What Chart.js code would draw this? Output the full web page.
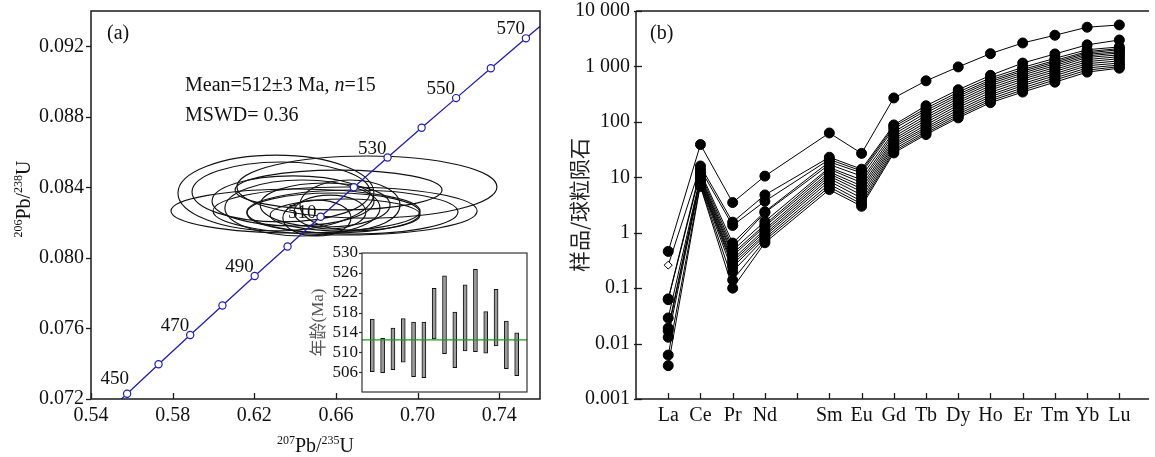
<!DOCTYPE html>
<html><head><meta charset="utf-8">
<script src="https://cdn.jsdelivr.net/npm/chart.js@4.4.0/dist/chart.umd.min.js"></script>
<style>
html,body{margin:0;padding:0;background:#fff;}
#wrap{position:relative;width:1155px;height:457px;overflow:hidden;background:#fff;}
.c{position:absolute;}
</style></head><body>
<div id="wrap">
<canvas id="ca" class="c" style="left:0;top:0" width="560" height="457"></canvas>
<canvas id="cb" class="c" style="left:560px;top:0" width="595" height="457"></canvas>
<canvas id="cc" class="c" style="left:300px;top:242px" width="232" height="156"></canvas>
</div>
<script>
// ---------------- Panel (a): concordia ----------------
const concAges = [440,450,460,470,480,490,500,510,520,530,540,550,560,570,580];
const concX = [0.5424,0.5577,0.5731,0.5886,0.6044,0.6202,0.6363,0.6525,0.6688,0.6853,0.7020,0.7189,0.7359,0.7531,0.7704];
const concY = [0.07064,0.07230,0.07397,0.07563,0.07730,0.07897,0.08065,0.08233,0.08401,0.08569,0.08738,0.08906,0.09075,0.09245,0.09415];
const concLabelAges = [450,470,490,510,530,550,570];
const xTicksA = [0.54,0.58,0.62,0.66,0.70,0.74];
const yTicksA = [0.072,0.076,0.080,0.084,0.088,0.092];
// error ellipses: centre (207Pb/235U, 206Pb/238U) and half-axes
const ellX = [0.6402,0.6306,0.6331,0.6390,0.6613,0.6752,0.6645,0.6681,0.6588,0.6507,0.6571,0.6547,0.6645,0.6669,0.6436];
const ellY = [0.08266,0.08368,0.08374,0.08323,0.08385,0.08402,0.08266,0.08260,0.08255,0.08226,0.08260,0.08300,0.08243,0.08300,0.08283];
const ellA = [0.0610,0.0480,0.0436,0.0397,0.0507,0.0637,0.0647,0.0517,0.0424,0.0167,0.0176,0.0318,0.0367,0.0245,0.0380];
const ellB = [0.00125,0.00215,0.00170,0.00142,0.00113,0.00176,0.00136,0.00125,0.00113,0.00102,0.00096,0.00125,0.00091,0.00142,0.00159];

// ---------------- Inset: spot ages ----------------
const spotAgeLow  = [506.1,505.9,506.5,508.0,505.1,504.9,512.7,509.7,506.9,510.3,510.1,509.8,511.3,506.7,505.3];
const spotAgeHigh = [516.7,512.8,514.9,516.8,516.1,516.1,522.9,525.4,518.1,523.6,526.7,518.2,522.7,516.3,513.9];
const weightedMean = 512.5;
const insetTicks = [506,510,514,518,522,526,530];

// ---------------- Panel (b): REE patterns ----------------
const reeElements = ['La','Ce','Pr','Nd','','Sm','Eu','Gd','Tb','Dy','Ho','Er','Tm','Yb','Lu'];
const reeMeasured = ['La','Ce','Pr','Nd','Sm','Eu','Gd','Tb','Dy','Ho','Er','Tm','Yb','Lu'];
const s01 = [0.46,39,3.5,10.5,63,27,270,550,980,1700,2650,3650,5100,5600];
const s02 = [0.26,16,1.55,4.8,23,14,88,195,380,690,1150,1680,2450,3000];
const s03 = [0.064,14,1.35,3.7,21,13,82,175,345,620,960,1400,2000,2250];
const s04 = [0.062,12.5,0.65,2.4,19,12,75,160,315,570,880,1280,1850,2100];
const s05 = [null,11.5,0.55,2.3,17,10.5,66,145,290,530,820,1200,1750,2000];
const s06 = [0.029,10.5,0.48,1.6,15,9,60,130,265,490,760,1120,1650,1850];
const s07 = [0.019,10,0.42,1.4,14,8,54,118,240,450,700,1040,1550,1750];
const s08 = [0.017,9.5,0.38,1.3,12.5,7,49,107,220,410,640,960,1450,1620];
const s09 = [0.013,9,0.33,1.15,11.5,6.2,45,97,200,375,590,880,1330,1500];
const s10 = [null,8.5,0.30,1.05,10.5,5.5,41,88,182,340,540,810,1220,1380];
const s11 = [0.0062,8,0.27,0.95,9.5,4.8,38,80,165,310,490,740,1120,1260];
const s12 = [null,7.8,0.24,0.88,8.5,4.2,35,74,150,285,450,680,1030,1150];
const s13 = [0.004,7.4,0.20,0.80,7.5,3.7,32,68,138,260,410,620,940,1060];
const s14 = [null,7.1,0.14,0.73,6.7,3.3,29.5,63,127,240,375,570,860,990];
const s15 = [null,6.8,0.10,0.66,6,3,27.5,59,118,222,345,520,790,930];
const samples = [s01,s02,s03,s04,s05,s06,s07,s08,s09,s10,s11,s12,s13,s14,s15];
const diamondSample = 1; // s02 La plotted as open diamond
const yTicksB = [0.001,0.01,0.1,1,10,100,1000,10000];
const yTickLabelsB = ['0.001','0.01','0.1','1','10','100','1 000','10 000'];

// ---------------- styles ----------------
const SERIF = '"Liberation Serif","DejaVu Serif",serif';
const CJK = '"Noto Sans CJK SC","Noto Sans CJK JP",sans-serif';
const BLUE = '#1f1fae';
const AXIS = '#1a1a1a';
const labelOffsetA = {450:[2,-10], 510:[-4,1]};

function drawRich(ctx, parts, x, y, align, size) {
  size = size || 20;
  const sup = Math.round(size*0.6);
  let w = 0;
  parts.forEach(p => { ctx.font = (p.it?'italic ':'') + (p.sup?sup:size) + 'px ' + SERIF; p.w = ctx.measureText(p.t).width; w += p.w; });
  let cx = align === 'center' ? x - w/2 : x;
  ctx.textAlign = 'left'; ctx.textBaseline = 'alphabetic';
  parts.forEach(p => { ctx.font = (p.it?'italic ':'') + (p.sup?sup:size) + 'px ' + SERIF; ctx.fillText(p.t, cx, p.sup ? y - size*0.42 : y); cx += p.w; });
}
function line(ctx, x1, y1, x2, y2) { ctx.beginPath(); ctx.moveTo(x1,y1); ctx.lineTo(x2,y2); ctx.stroke(); }

// ================= Chart A =================
const pluginA = {
  id: 'pa',
  beforeDatasetsDraw(chart) {
    const {ctx, chartArea: ca, scales: {x, y}} = chart;
    ctx.save();
    ctx.beginPath(); ctx.rect(ca.left, ca.top, ca.width, ca.height); ctx.clip();
    ctx.strokeStyle = '#111'; ctx.lineWidth = 1.15;
    for (let i = 0; i < ellX.length; i++) {
      const cx = x.getPixelForValue(ellX[i]), cy = y.getPixelForValue(ellY[i]);
      const rx = x.getPixelForValue(ellX[i] + ellA[i]) - cx;
      const ry = cy - y.getPixelForValue(ellY[i] + ellB[i]);
      ctx.beginPath(); ctx.ellipse(cx, cy, rx, ry, 0, 0, Math.PI*2); ctx.stroke();
    }
    ctx.restore();
  },
  afterDatasetsDraw(chart) {
    const {ctx, chartArea: ca, scales: {x, y}} = chart;
    ctx.save();
    ctx.fillStyle = '#111';
    ctx.font = '19px ' + SERIF; ctx.textAlign = 'right'; ctx.textBaseline = 'alphabetic';
    concLabelAges.forEach(a => {
      const i = concAges.indexOf(a);
      const px = x.getPixelForValue(concX[i]), py = y.getPixelForValue(concY[i]);
      const off = labelOffsetA[a] || [-1, -4];
      ctx.fillText(String(a), px + off[0], py + off[1]);
    });
    ctx.strokeStyle = AXIS; ctx.lineWidth = 1.5;
    ctx.strokeRect(ca.left, ca.top, ca.width, ca.height);
    ctx.lineWidth = 1.3;
    xTicksA.forEach(v => { const p = Math.round(x.getPixelForValue(v)) + 0.5; line(ctx, p, ca.bottom, p, ca.bottom - 6); });
    yTicksA.forEach(v => { const p = Math.round(y.getPixelForValue(v)) + 0.5; line(ctx, ca.left, p, ca.left - 5, p); });
    ctx.fillStyle = '#111';
    ctx.font = '20px ' + SERIF; ctx.textAlign = 'left';
    ctx.fillText('(a)', 107, 39);
    drawRich(ctx, [{t:'Mean=512\u00b13 Ma, '},{t:'n',it:true},{t:'=15'}], 185, 91, 'left', 20);
    drawRich(ctx, [{t:'MSWD= 0.36'}], 185, 121, 'left', 20);
    drawRich(ctx, [{t:'207',sup:true},{t:'Pb/'},{t:'235',sup:true},{t:'U'}], (ca.left+ca.right)/2, 452, 'center', 20);
    ctx.save();
    ctx.translate(30, (ca.top+ca.bottom)/2 - 6); ctx.rotate(-Math.PI/2);
    drawRich(ctx, [{t:'206',sup:true},{t:'Pb/'},{t:'238',sup:true},{t:'U'}], 0, 0, 'center', 20);
    ctx.restore();
    ctx.restore();
  }
};

new Chart(document.getElementById('ca'), {
  type: 'scatter',
  data: { datasets: [{
    data: concAges.map((a, i) => ({x: concX[i], y: concY[i]})),
    showLine: true, borderColor: BLUE, borderWidth: 1.3, tension: 0,
    pointRadius: concAges.map(a => a >= 450 && a <= 570 ? 3.6 : 0),
    pointBackgroundColor: '#fff', pointBorderColor: BLUE, pointBorderWidth: 1.2
  }]},
  options: {
    responsive: false, animation: false, devicePixelRatio: 1,
    layout: { padding: { top: 11, right: 20, left: 0, bottom: 0 } },
    plugins: { legend: { display: false }, tooltip: { enabled: false } },
    scales: {
      x: { type: 'linear', min: 0.54, max: 0.76,
        grid: { display: false, drawTicks: false }, border: { display: false },
        afterBuildTicks: s => { s.ticks = xTicksA.map(v => ({value: v})); },
        ticks: { padding: 7, autoSkip: false, maxRotation: 0, color: '#111', font: { family: SERIF, size: 20, lineHeight: 1 }, callback: v => Number(v).toFixed(2) },
        afterFit: s => { s.height = 58; s.paddingLeft = 0; s.paddingRight = 0; } },
      y: { type: 'linear', min: 0.072, max: 0.094,
        grid: { display: false, drawTicks: false }, border: { display: false },
        afterBuildTicks: s => { s.ticks = yTicksA.map(v => ({value: v})); },
        ticks: { padding: 7, autoSkip: false, color: '#111', font: { family: SERIF, size: 20, lineHeight: 1 }, callback: v => Number(v).toFixed(3) },
        afterFit: s => { s.width = 91; s.paddingTop = 0; s.paddingBottom = 0; } }
    }
  },
  plugins: [pluginA]
});

// ================= Inset =================
const pluginC = {
  id: 'pc',
  beforeDraw(chart) {
    const {ctx, chartArea: ca} = chart;
    ctx.save(); ctx.fillStyle = '#fff'; ctx.fillRect(ca.left, ca.top, ca.width, ca.height); ctx.restore();
  },
  afterDraw(chart) {
    const {ctx, chartArea: ca, scales: {y}} = chart;
    ctx.save();
    ctx.strokeStyle = '#333'; ctx.lineWidth = 1.2;
    ctx.strokeRect(ca.left, ca.top, ca.width, ca.height);
    insetTicks.forEach(v => { const p = Math.round(y.getPixelForValue(v)) + 0.5; line(ctx, ca.left, p, ca.left - 3, p); });
    ctx.translate(18, (ca.top + ca.bottom)/2); ctx.rotate(-Math.PI/2);
    ctx.fillStyle = '#555'; ctx.textBaseline = 'middle';
    ctx.font = '17px ' + CJK;
    const t1 = '年龄', t2 = '(Ma)';
    const w1 = ctx.measureText(t1).width; ctx.font = '17px ' + SERIF; const w2 = ctx.measureText(t2).width;
    ctx.textAlign = 'left';
    ctx.font = '17px ' + CJK; ctx.fillText(t1, -(w1+w2)/2, 0);
    ctx.font = '17px ' + SERIF; ctx.fillText(t2, -(w1+w2)/2 + w1, 1);
    ctx.restore();
  }
};
new Chart(document.getElementById('cc'), {
  type: 'bar',
  data: { datasets: [
    { type: 'line', data: [{x: 0, y: weightedMean}, {x: 16, y: weightedMean}], borderColor: '#1e9a1e', borderWidth: 1.3, pointRadius: 0 },
    { type: 'bar', data: spotAgeLow.map((lo, i) => ({x: i + 1, y: [lo, spotAgeHigh[i]]})),
      backgroundColor: '#9c9c9c', borderColor: '#111', borderWidth: 1, borderSkipped: false, barThickness: 4 }
  ]},
  options: {
    responsive: false, animation: false, devicePixelRatio: 1,
    layout: { padding: { top: 11, right: 5, left: 0, bottom: 6 } },
    plugins: { legend: { display: false }, tooltip: { enabled: false } },
    scales: {
      x: { type: 'linear', min: 0, max: 16, display: false, offset: false },
      y: { type: 'linear', min: 502, max: 530,
        grid: { display: false, drawTicks: false }, border: { display: false },
        afterBuildTicks: s => { s.ticks = insetTicks.map(v => ({value: v})); },
        ticks: { padding: 4, autoSkip: false, color: '#111', font: { family: SERIF, size: 17, lineHeight: 1 } },
        afterFit: s => { s.width = 62; s.paddingTop = 0; s.paddingBottom = 0; } }
    }
  },
  plugins: [pluginC]
});

// ================= Chart B =================
const pluginB = {
  id: 'pb',
  afterDraw(chart) {
    const {ctx, chartArea: ca, scales: {x, y}} = chart;
    ctx.save();
    ctx.strokeStyle = AXIS; ctx.lineWidth = 1.5;
    line(ctx, ca.left, ca.top, ca.right, ca.top);
    line(ctx, ca.left, ca.top, ca.left, ca.bottom);
    line(ctx, ca.left, ca.bottom, ca.right, ca.bottom);
    ctx.lineWidth = 1.3;
    reeElements.forEach((el, i) => { const p = Math.round(x.getPixelForValue(i + 1)) + 0.5; line(ctx, p, ca.bottom, p, ca.bottom - 6); });
    yTicksB.forEach(v => { const p = Math.round(y.getPixelForValue(v)) + 0.5; line(ctx, ca.left - 2, p, ca.left + 6, p); });
    ctx.fillStyle = '#111'; ctx.font = '20px ' + SERIF; ctx.textAlign = 'left'; ctx.textBaseline = 'alphabetic';
    ctx.fillText('(b)', 650 - 560, 39);
    ctx.translate(19, (ca.top + ca.bottom)/2); ctx.rotate(-Math.PI/2);
    ctx.fillStyle = '#222'; ctx.font = '21px ' + CJK; ctx.textAlign = 'center'; ctx.textBaseline = 'middle';
    ctx.fillText('样品/球粒陨石', 0, 0);
    ctx.restore();
  }
};
new Chart(document.getElementById('cb'), {
  type: 'scatter',
  data: { datasets: samples.map((vals, k) => {
    const pts = [], styles = [], fills = [], radii = [];
    vals.forEach((v, i) => {
      if (v == null) return;
      const dia = (k === diamondSample && i === 0);
      pts.push({x: reeElements.indexOf(reeMeasured[i]) + 1, y: v});
      styles.push(dia ? 'rectRot' : 'circle'); fills.push(dia ? '#fff' : '#000'); radii.push(dia ? 4 : 5);
    });
    return { data: pts, showLine: true, borderColor: '#000', borderWidth: 1, tension: 0,
      pointStyle: styles, pointBackgroundColor: fills, pointBorderColor: '#000', pointBorderWidth: 1, pointRadius: radii };
  })},
  options: {
    responsive: false, animation: false, devicePixelRatio: 1,
    layout: { padding: { top: 11, right: 0, left: 0, bottom: 0 } },
    plugins: { legend: { display: false }, tooltip: { enabled: false } },
    scales: {
      x: { type: 'linear', min: 0, max: 15.92,
        grid: { display: false, drawTicks: false }, border: { display: false },
        afterBuildTicks: s => { s.ticks = reeElements.map((e, i) => ({value: i + 1})); },
        ticks: { padding: 7, autoSkip: false, maxRotation: 0, color: '#111', font: { family: SERIF, size: 20, lineHeight: 1 }, callback: v => reeElements[Math.round(v) - 1] || '' },
        afterFit: s => { s.height = 58; s.paddingLeft = 0; s.paddingRight = 0; } },
      y: { type: 'logarithmic', min: 0.001, max: 10000,
        grid: { display: false, drawTicks: false }, border: { display: false },
        afterBuildTicks: s => { s.ticks = yTicksB.map(v => ({value: v})); },
        ticks: { padding: 6, autoSkip: false, color: '#111', font: { family: SERIF, size: 20, lineHeight: 1 }, callback: v => yTickLabelsB[yTicksB.findIndex(t => Math.abs(Math.log10(t) - Math.log10(v)) < 1e-6)] },
        afterFit: s => { s.width = 76; s.paddingTop = 0; s.paddingBottom = 0; } }
    }
  },
  plugins: [pluginB]
});
</script>
</body></html>
